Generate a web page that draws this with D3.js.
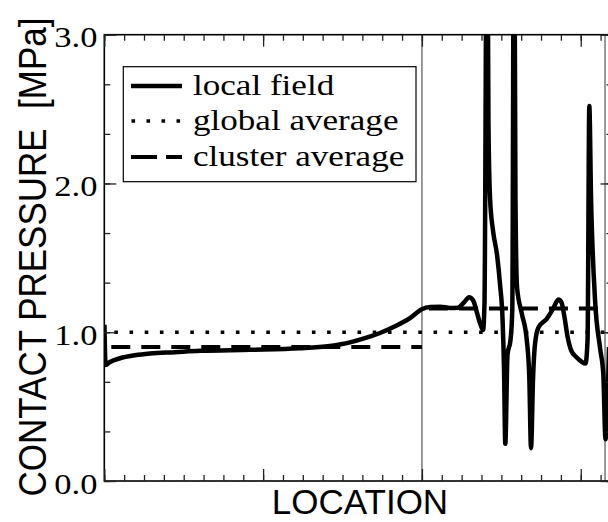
<!DOCTYPE html>
<html>
<head>
<meta charset="utf-8">
<script src="https://cdn.jsdelivr.net/npm/d3@7"></script>
<style>
  html, body { margin: 0; padding: 0; background: #fff; }
  svg { display: block; }
</style>
</head>
<body>
<div id="chart"></div>
<script>
// location along contact (arbitrary units, major tick = 1)
const localLoc = [
  0.001, 0.008, 0.036, 0.099, 0.193, 0.288, 0.445, 0.603, 0.917, 1.232, 1.421, 1.547, 1.641, 1.736, 1.831, 1.925, 1.999,
  2.052, 2.115, 2.177, 2.227, 2.265, 2.297, 2.322, 2.347, 2.366, 2.385, 2.394, 2.410, 2.419, 2.429, 2.448, 2.473, 2.492,
  2.508, 2.517, 2.525, 2.539, 2.558, 2.569, 2.580, 2.589, 2.599, 2.628, 2.660, 2.676, 2.687, 2.700, 2.712, 2.733, 2.786,
  2.827, 2.859, 2.879, 2.898, 2.917, 2.939, 2.975, 3.008, 3.030, 3.043, 3.054, 3.065, 3.090, 3.122, 3.142, 3.156, 3.178
]
// contact pressure [MPa]
const localPressure = [
  1.05, 0.78, 0.80, 0.825, 0.845, 0.857, 0.866, 0.875, 0.882, 0.892, 0.908, 0.932, 0.96, 0.995, 1.04, 1.095, 1.155,
  1.17, 1.172, 1.163, 1.165, 1.20, 1.235, 1.215, 1.13, 1.06, 1.015, 1.20, 4.2, 2.4, 1.9, 1.68, 1.52, 1.32,
  1.08, 0.75, 0.25, 0.85, 0.95, 1.15, 4.2, 1.9, 1.3, 1.13, 0.95, 0.70, 0.22, 0.70, 0.92, 1.03, 1.09,
  1.16, 1.22, 1.20, 1.10, 0.97, 0.88, 0.83, 0.80, 0.79, 0.95, 2.52, 1.9, 1.22, 0.89, 0.72, 0.28, 0.90
]
const globalAverage = 1.0
const clusterStart = [0, 2.0]
const clusterEnd = [2.0, 3.2]
const clusterAverage = [0.9, 1.16]
const clusterBounds = [2.0, 3.153]

const yMajor = [0, 1, 2, 3]
const yLabels = ["0.0", "1.0", "2.0", "3.0"]
const xMajor = [0, 1, 2, 3]
const legendNames = ["local field", "global average", "cluster average"]

const width = 608, height = 522
const marginL = 104.3, marginT = 34.7, plotR = 612.5, plotB = 481

const svg = d3.select("#chart").append("svg")
  .attr("width", width)
  .attr("height", height)
  .style("background", "#fff")

const x = d3.scaleLinear().domain([0, 3.2]).range([marginL, plotR])
const y = d3.scaleLinear().domain([0, 3]).range([plotB, marginT])

const xMinor = d3.range(0, 3.2001, 0.125)
const yMinor = d3.range(0, 3.001, 1 / 3)

svg.append("clipPath").attr("id", "plotClip")
  .append("rect")
  .attr("x", x(0)).attr("y", y(3))
  .attr("width", x(3.2) - x(0)).attr("height", y(0) - y(3))

// cluster boundaries
svg.append("g")
  .selectAll("line")
  .data(clusterBounds)
  .join("line")
  .attr("x1", d => x(d)).attr("x2", d => x(d))
  .attr("y1", y(0)).attr("y2", y(3))
  .attr("stroke", "#808080")
  .attr("stroke-width", 1.6)

const plot = svg.append("g").attr("clip-path", "url(#plotClip)")

// global average (dotted)
plot.append("line")
  .attr("x1", x(0) + 10).attr("x2", x(3.2))
  .attr("y1", y(globalAverage)).attr("y2", y(globalAverage))
  .attr("stroke", "#000")
  .attr("stroke-width", 3.6)
  .attr("stroke-dasharray", "3.6,11.6")

// cluster averages (dashed)
plot.append("g")
  .selectAll("line")
  .data(clusterAverage)
  .join("line")
  .attr("x1", (d, i) => x(clusterStart[i]) + 7)
  .attr("x2", (d, i) => x(clusterEnd[i]))
  .attr("y1", d => y(d)).attr("y2", d => y(d))
  .attr("stroke", "#000")
  .attr("stroke-width", 4)
  .attr("stroke-dasharray", "19,11")

// local field
const localLine = d3.line()
  .x((d, i) => x(localLoc[i]))
  .y(d => y(d))
  .curve(d3.curveMonotoneX)

plot.append("path")
  .datum(localPressure)
  .attr("d", localLine)
  .attr("fill", "none")
  .attr("stroke", "#000")
  .attr("stroke-width", 4.5)

// frame
svg.append("rect")
  .attr("x", x(0)).attr("y", y(3))
  .attr("width", x(3.2) - x(0)).attr("height", y(0) - y(3))
  .attr("fill", "none")
  .attr("stroke", "#000")
  .attr("stroke-width", 1.6)

// ticks, all pointing inward
function styleAxis(g) {
  g.select(".domain").remove()
  g.selectAll(".tick line").attr("stroke", "#222").attr("stroke-width", 1.3)
}
svg.append("g").attr("transform", `translate(0,${y(0)})`)
  .call(d3.axisBottom(x).tickValues(xMinor).tickSize(-6).tickFormat("")).call(styleAxis)
svg.append("g").attr("transform", `translate(0,${y(0)})`)
  .call(d3.axisBottom(x).tickValues(xMajor).tickSize(-12).tickFormat("")).call(styleAxis)
svg.append("g").attr("transform", `translate(0,${y(3)})`)
  .call(d3.axisTop(x).tickValues(xMinor).tickSize(-6).tickFormat("")).call(styleAxis)
svg.append("g").attr("transform", `translate(0,${y(3)})`)
  .call(d3.axisTop(x).tickValues(xMajor).tickSize(-12).tickFormat("")).call(styleAxis)
svg.append("g").attr("transform", `translate(${x(3.2)},0)`)
  .call(d3.axisRight(y).tickValues(yMinor).tickSize(-6).tickFormat("")).call(styleAxis)
svg.append("g").attr("transform", `translate(${x(3.2)},0)`)
  .call(d3.axisRight(y).tickValues(yMajor).tickSize(-12).tickFormat("")).call(styleAxis)
svg.append("g").attr("transform", `translate(${x(0)},0)`)
  .call(d3.axisLeft(y).tickValues(yMinor).tickSize(-6).tickFormat("")).call(styleAxis)

const yAxisG = svg.append("g").attr("transform", `translate(${x(0)},0)`)
  .call(d3.axisLeft(y).tickValues(yMajor).tickSize(-12).tickPadding(6)
    .tickFormat((d, i) => yLabels[i]))
  .call(styleAxis)
yAxisG.selectAll(".tick text")
  .attr("font-family", "'Liberation Serif', 'Times New Roman', serif")
  .attr("font-size", 30)
  .attr("fill", "#000")
  .attr("dy", "0.4em")
  .attr("transform", "scale(1.15,1)")

// axis titles
svg.append("text")
  .attr("transform", `translate(46,257) scale(1.12,1) rotate(-90)`)
  .attr("text-anchor", "middle")
  .attr("font-family", "'Liberation Sans', Arial, sans-serif")
  .attr("font-size", 35)
  .attr("fill", "#000")
  .style("white-space", "pre")
  .text("CONTACT PRESSURE  [MPa]")

svg.append("text")
  .attr("x", 360).attr("y", 514)
  .attr("text-anchor", "middle")
  .attr("font-family", "'Liberation Sans', Arial, sans-serif")
  .attr("font-size", 35)
  .attr("fill", "#000")
  .text("LOCATION")

// legend
const legend = svg.append("g")
legend.append("rect")
  .attr("x", 123.3).attr("y", 66.7)
  .attr("width", 292.7).attr("height", 115)
  .attr("fill", "#fff")
  .attr("stroke", "#000")
  .attr("stroke-width", 1.2)

const legendRowY = [86, 121, 157]
const legendDash = [null, "3.6,11.4", "26,9"]
const legendWidth = [4.5, 3.6, 4]
legend.selectAll("line.sample")
  .data(legendNames)
  .join("line")
  .attr("class", "sample")
  .attr("x1", (d, i) => i === 1 ? 131.5 : 131).attr("x2", 182)
  .attr("y1", (d, i) => legendRowY[i]).attr("y2", (d, i) => legendRowY[i])
  .attr("stroke", "#000")
  .attr("stroke-width", (d, i) => legendWidth[i])
  .attr("stroke-dasharray", (d, i) => legendDash[i])

legend.selectAll("text")
  .data(legendNames)
  .join("text")
  .attr("transform", (d, i) => `translate(193,${legendRowY[i]}) scale(1.17,1)`)
  .attr("dy", "0.3em")
  .attr("font-family", "'Liberation Serif', 'Times New Roman', serif")
  .attr("font-size", 30)
  .attr("fill", "#000")
  .text(d => d)
</script>
</body>
</html>
